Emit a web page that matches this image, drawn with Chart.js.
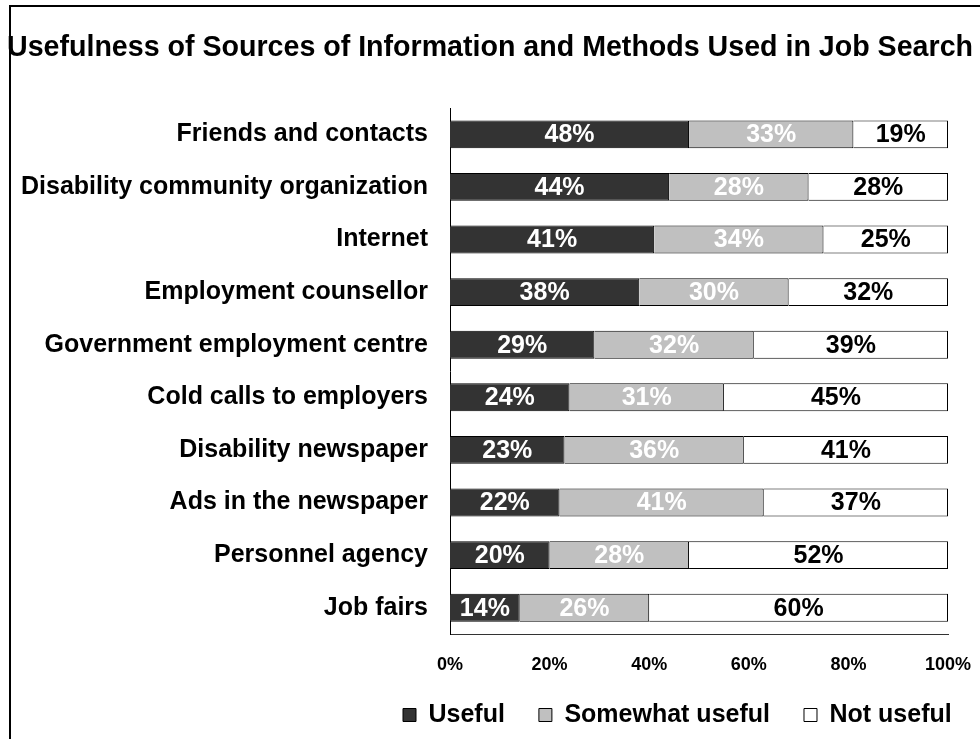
<!DOCTYPE html>
<html><head><meta charset="utf-8">
<script src="https://cdn.jsdelivr.net/npm/chart.js@4.4.0/dist/chart.umd.min.js"></script>
<style>html,body{margin:0;padding:0;background:#fff;}#wrap{width:980px;height:739px;position:relative;}</style>
</head><body><div id="wrap"><canvas id="c" width="980" height="739"></canvas></div>
<script>
const categories = ['Friends and contacts','Disability community organization','Internet','Employment counsellor','Government employment centre','Cold calls to employers','Disability newspaper','Ads in the newspaper','Personnel agency','Job fairs'];
const useful = [48,44,41,38,29,24,23,22,20,14];
const somewhatUseful = [33,28,34,30,32,31,36,41,28,26];
const notUseful = [19,28,25,32,39,45,41,37,52,60];
const tickLabels = ['0%','20%','40%','60%','80%','100%'];
const seriesNames = ['Useful','Somewhat useful','Not useful'];
const titleText = 'Usefulness of Sources of Information and Methods Used in Job Search';

const FONT = "'Liberation Sans', Arial, sans-serif";
const colors = ['#333333','#c0c0c0','#ffffff'];
const labelColors = ['#ffffff','#ffffff','#000000'];

const dataLabels = {
  id: 'dataLabels',
  afterDatasetsDraw(chart) {
    const ctx = chart.ctx;
    ctx.save();
    ctx.font = 'bold 25px ' + FONT;
    ctx.textAlign = 'center';
    ctx.textBaseline = 'middle';
    chart.data.datasets.forEach((ds, i) => {
      const meta = chart.getDatasetMeta(i);
      meta.data.forEach((el, j) => {
        const p = el.getProps(['x','y','base'], true);
        ctx.fillStyle = labelColors[i];
        ctx.fillText(ds.data[j] + '%', (p.x + p.base) / 2, p.y + 1);
      });
    });
    ctx.restore();
  }
};

const frame = {
  id: 'frame',
  afterLayout(chart) {
    // place the legend row where the reference has it
    const lg = chart.legend;
    const dx = 369 - lg.left;
    const dy = 668.5 - lg.top;
    lg.left += dx; lg.right += dx;
    lg.top += dy; lg.bottom += dy;
  },
  afterDraw(chart) {
    const ctx = chart.ctx;
    ctx.save();
    ctx.strokeStyle = '#000';
    ctx.lineWidth = 2;
    ctx.beginPath();
    ctx.moveTo(10, chart.height);
    ctx.lineTo(10, 6);
    ctx.lineTo(chart.width, 6);
    ctx.stroke();
    ctx.restore();
  }
};

new Chart(document.getElementById('c'), {
  type: 'bar',
  data: {
    labels: categories,
    datasets: [
      {label: seriesNames[0], data: useful, backgroundColor: colors[0], borderColor: '#000', borderWidth: 1},
      {label: seriesNames[1], data: somewhatUseful, backgroundColor: colors[1], borderColor: '#000', borderWidth: 1},
      {label: seriesNames[2], data: notUseful, backgroundColor: colors[2], borderColor: '#000', borderWidth: 1}
    ]
  },
  plugins: [dataLabels, frame],
  options: {
    indexAxis: 'y',
    responsive: false,
    animation: false,
    devicePixelRatio: 1,
    categoryPercentage: 1,
    barPercentage: 0.53,
    layout: {padding: {top: 0, left: 0, right: 0, bottom: 0}},
    scales: {
      x: {
        stacked: true, min: 0, max: 100,
        grid: {display: false, drawTicks: false},
        border: {display: true, color: '#333', width: 1},
        ticks: {stepSize: 20, padding: 20, color: '#000', font: {family: FONT, size: 18, weight: 'bold'},
          callback: (v, i) => tickLabels[i]},
        afterFit(scale) { scale.height = 45; scale.paddingRight = 32; scale.paddingLeft = 0; }
      },
      y: {
        stacked: true,
        grid: {display: false, drawTicks: false},
        border: {display: true, color: '#000', width: 1},
        ticks: {padding: 22, color: '#000', font: {family: FONT, size: 25, weight: 'bold'}},
        afterFit(scale) { scale.width = 450; }
      }
    },
    plugins: {
      title: {display: true, text: titleText, color: '#000', font: {family: FONT, size: 28.6, weight: 'bold'}, padding: {top: 30.8, bottom: 42.9}},
      legend: {
        position: 'bottom', align: 'start', maxHeight: 60,
        labels: {boxWidth: 13, boxHeight: 13, padding: 34, color: '#000', font: {family: FONT, size: 25, weight: 'bold'}}
      },
      tooltip: {enabled: false}
    }
  }
});
</script></body></html>
